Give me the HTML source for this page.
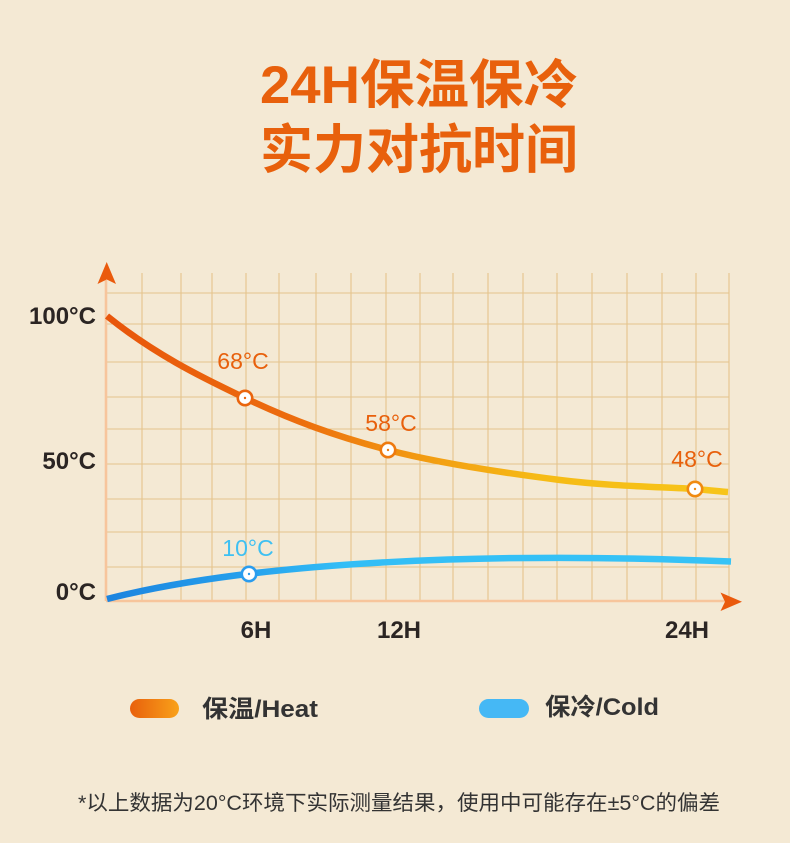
<!DOCTYPE html>
<html><head><meta charset="utf-8">
<style>
html,body{margin:0;padding:0;background:#f4e9d4;}
svg{display:block;}
text{font-family:"Liberation Sans","Noto Sans CJK SC",sans-serif;}
</style></head>
<body>
<svg width="790" height="843" viewBox="0 0 790 843" xmlns="http://www.w3.org/2000/svg">
<defs>
<linearGradient id="heat" gradientUnits="userSpaceOnUse" x1="107" y1="0" x2="728" y2="0">
<stop offset="0" stop-color="#e8560c"/>
<stop offset="0.3" stop-color="#ec6c0e"/>
<stop offset="0.5" stop-color="#f29a12"/>
<stop offset="0.7" stop-color="#f6bb16"/>
<stop offset="1" stop-color="#f7c51a"/>
</linearGradient>
<linearGradient id="cold" gradientUnits="userSpaceOnUse" x1="107" y1="0" x2="731" y2="0">
<stop offset="0" stop-color="#1c84df"/>
<stop offset="0.22" stop-color="#26a0ec"/>
<stop offset="0.38" stop-color="#33bef6"/>
<stop offset="1" stop-color="#36c3f6"/>
</linearGradient>
<linearGradient id="lgHeat" x1="0" y1="0" x2="1" y2="0">
<stop offset="0" stop-color="#e8600c"/>
<stop offset="1" stop-color="#f9a21a"/>
</linearGradient>
</defs>
<rect width="790" height="843" fill="#f4e9d4"/>

<!-- Title -->
<text x="419" y="103" text-anchor="middle" font-size="53" font-weight="bold" fill="#e8600c" textLength="318" lengthAdjust="spacingAndGlyphs">24H保温保冷</text>
<text x="419" y="168" text-anchor="middle" font-size="53" font-weight="bold" fill="#e8600c" textLength="318" lengthAdjust="spacingAndGlyphs">实力对抗时间</text>

<!-- Grid -->
<g stroke="#e4c48c" stroke-width="1.1" fill="none">
<line x1="142" y1="273" x2="142" y2="601"/>
<line x1="181" y1="273" x2="181" y2="601"/>
<line x1="212" y1="273" x2="212" y2="601"/>
<line x1="246" y1="273" x2="246" y2="601"/>
<line x1="279" y1="273" x2="279" y2="601"/>
<line x1="316" y1="273" x2="316" y2="601"/>
<line x1="351" y1="273" x2="351" y2="601"/>
<line x1="386" y1="273" x2="386" y2="601"/>
<line x1="420" y1="273" x2="420" y2="601"/>
<line x1="453" y1="273" x2="453" y2="601"/>
<line x1="488" y1="273" x2="488" y2="601"/>
<line x1="523" y1="273" x2="523" y2="601"/>
<line x1="557" y1="273" x2="557" y2="601"/>
<line x1="592" y1="273" x2="592" y2="601"/>
<line x1="627" y1="273" x2="627" y2="601"/>
<line x1="662" y1="273" x2="662" y2="601"/>
<line x1="696" y1="273" x2="696" y2="601"/>
<line x1="729" y1="273" x2="729" y2="601"/>
<line x1="106" y1="293" x2="729" y2="293"/>
<line x1="106" y1="324" x2="729" y2="324"/>
<line x1="106" y1="362" x2="729" y2="362"/>
<line x1="106" y1="397" x2="729" y2="397"/>
<line x1="106" y1="429" x2="729" y2="429"/>
<line x1="106" y1="464" x2="729" y2="464"/>
<line x1="106" y1="499" x2="729" y2="499"/>
<line x1="106" y1="532" x2="729" y2="532"/>
<line x1="106" y1="567" x2="729" y2="567"/>
</g>

<!-- Axes -->
<line x1="106" y1="280" x2="106" y2="601" stroke="#f7c59c" stroke-width="2.6"/>
<line x1="106" y1="601" x2="725" y2="601" stroke="#f7c59c" stroke-width="2.6"/>
<path d="M106.7 262 L116 284 L106.7 279.5 L97.5 284 Z" fill="#ea5a0c"/>
<path d="M742 601.7 L720.5 592.5 L725 601.7 L720.5 611 Z" fill="#ea5a0c"/>

<!-- Y labels -->
<g font-size="24" font-weight="bold" fill="#2b2523" text-anchor="end">
<text x="96" y="324">100°C</text>
<text x="96" y="469">50°C</text>
<text x="96" y="600">0°C</text>
</g>
<!-- X labels -->
<g font-size="24" font-weight="bold" fill="#2b2523" text-anchor="middle">
<text x="256" y="638">6H</text>
<text x="399" y="638">12H</text>
<text x="687" y="638">24H</text>
</g>

<!-- Heat curve -->
<path d="M107 316 C153 353 198.2 375.7 245 398 C291.8 420.3 335.5 436.3 388 450 C440.5 463.7 508.8 473.5 560 480 C611.2 486.5 667 487 695 489 C713 490.5 720 491.5 728 492" fill="none" stroke="url(#heat)" stroke-width="6.5" stroke-linecap="butt"/>

<!-- Cold curve -->
<path d="M107 599 C260 560 500 552 731 561.5" fill="none" stroke="url(#cold)" stroke-width="6.5" stroke-linecap="butt"/>

<!-- Markers -->
<circle cx="245" cy="398" r="7.2" fill="#fff" stroke="#ea650e" stroke-width="2.6"/>
<circle cx="245" cy="398" r="1.2" fill="#ea650e"/>
<circle cx="388" cy="450" r="7.2" fill="#fff" stroke="#ee7a10" stroke-width="2.6"/>
<circle cx="388" cy="450" r="1.2" fill="#ee7a10"/>
<circle cx="695" cy="489" r="7.2" fill="#fff" stroke="#f08a10" stroke-width="2.6"/>
<circle cx="695" cy="489" r="1.2" fill="#f08a10"/>
<circle cx="249" cy="574" r="7.2" fill="#fff" stroke="#2a9cee" stroke-width="2.6"/>
<circle cx="249" cy="574" r="1.2" fill="#2a9cee"/>

<!-- Data labels -->
<g font-size="23" text-anchor="middle">
<text x="243" y="369" fill="#e8600c">68°C</text>
<text x="391" y="431" fill="#e8600c">58°C</text>
<text x="697" y="467" fill="#e8600c">48°C</text>
<text x="248" y="556" fill="#3ec0f2">10°C</text>
</g>

<!-- Legend -->
<rect x="130" y="699" width="49" height="19" rx="9.5" fill="url(#lgHeat)"/>
<text x="202" y="717" font-size="24" font-weight="600" fill="#333" textLength="116" lengthAdjust="spacingAndGlyphs">保温/Heat</text>
<rect x="479" y="699" width="50" height="19" rx="9.5" fill="#45b8f5"/>
<text x="545" y="715" font-size="24" font-weight="600" fill="#333" textLength="114" lengthAdjust="spacingAndGlyphs">保冷/Cold</text>

<!-- Footnote -->
<text x="78" y="810" font-size="21" fill="#333" textLength="642" lengthAdjust="spacingAndGlyphs">*以上数据为20°C环境下实际测量结果，使用中可能存在±5°C的偏差</text>
</svg>
</body></html>
